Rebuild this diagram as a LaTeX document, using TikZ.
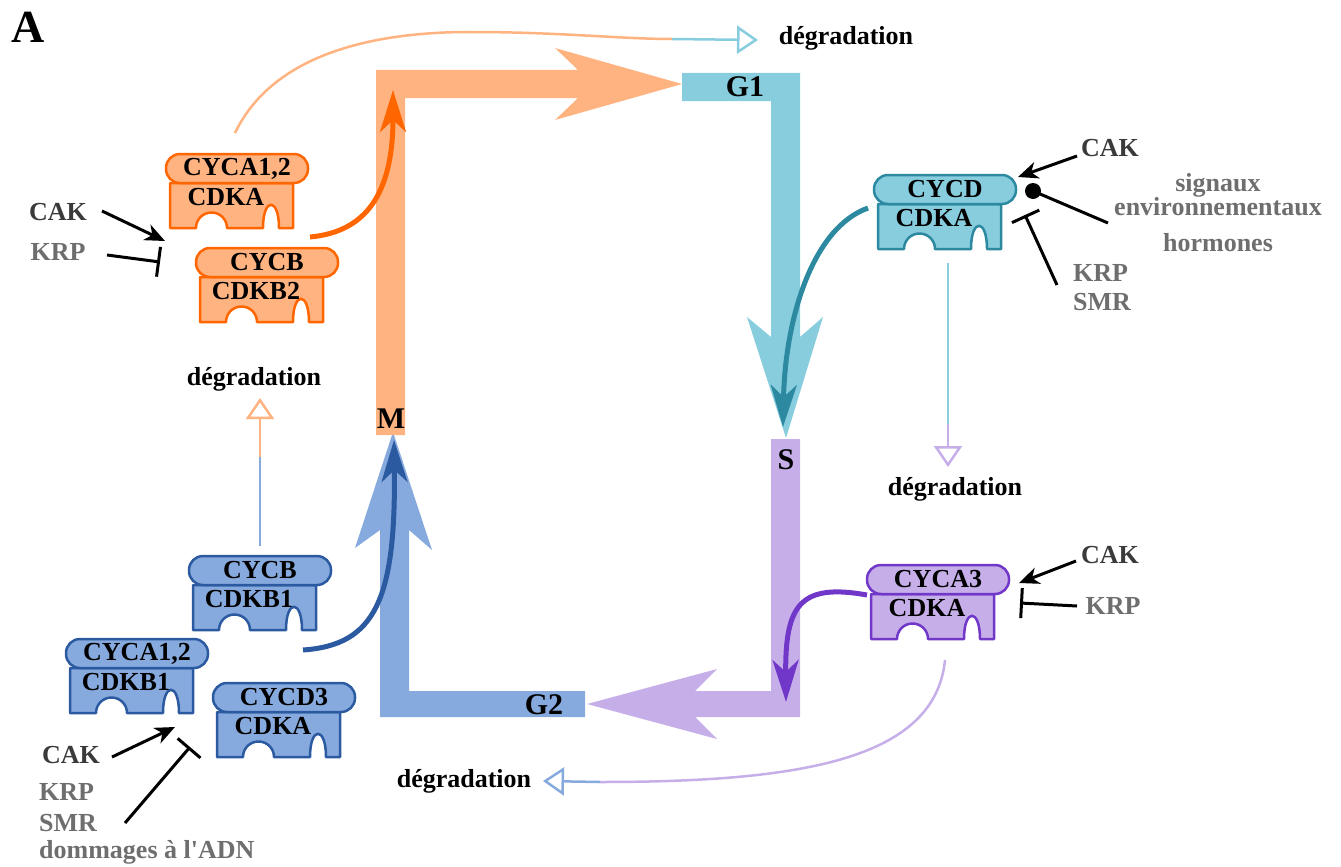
\documentclass[tikz,border=0pt]{standalone}
\usepackage{fontspec}
\setmainfont{Liberation Serif}
\usetikzlibrary{arrows.meta}
\definecolor{orL}{HTML}{FFB380}
\definecolor{orD}{HTML}{FF6600}
\definecolor{cyL}{HTML}{87CDDE}
\definecolor{cyD}{HTML}{2C89A0}
\definecolor{puL}{HTML}{C6AFE9}
\definecolor{puD}{HTML}{7137C8}
\definecolor{blL}{HTML}{87AADE}
\definecolor{blD}{HTML}{2C5AA0}
\definecolor{dkgray}{HTML}{3A3A3A}
\definecolor{ltgray}{HTML}{6E6E6E}
\newcommand{\cplx}[6]{%
 \begin{scope}[shift={(#2,#3)}]
  \filldraw[cxline, draw=#6D, fill=#6L] (0,0) -- (123,0) -- (123,45) -- (109,45)
    .. controls (109,14) and (93,14) .. (93,45) -- (57,45)
    .. controls (57,36.4) and (50.1,29.5) .. (41.5,29.5)
    .. controls (32.9,29.5) and (26,36.4) .. (26,45) -- (0,45) -- cycle;
  \filldraw[cxline, draw=#6D, fill=#6L, rounded corners=14pt] (-4,-29) rectangle (138,0);
  \node[lbl] (#1c) at (67,-14.5) {#4};
  \node[lbl] (#1k) at (56,14) {#5};
 \end{scope}}
\begin{document}
\begin{tikzpicture}[x=1pt,y=-1pt,
  lbl/.style={font=\fontsize{26}{26}\selectfont\bfseries, inner sep=0pt},
  phase/.style={font=\fontsize{30}{30}\selectfont\bfseries, inner sep=0pt},
  cxline/.style={line width=2.5pt, line join=round},
  reg/.style={line width=3pt, black},
  actarrow/.style={reg, -{Stealth[length=20pt,width=17pt,inset=6pt]}},
  inharrow/.style={reg, -{Bar[width=30pt]}},
  drive/.style={line width=5pt, -{Stealth[length=42pt,width=26pt,inset=12pt]}},
  deg/.style={line width=2.5pt},
  degtip/.style={-{Triangle[open,length=21pt,width=28pt]}},
]
\useasboundingbox (0,0) rectangle (1341,867);
\node[font=\fontsize{46}{46}\selectfont\bfseries, inner sep=0pt] (A) at (28,27) {A};

% cycle
\fill[blL] (585,691) -- (585,717) -- (380,717) -- (380,530) -- (355,548) -- (393,432) -- (432,550) -- (409,530) -- (409,691) -- cycle;
\fill[orL] (376,435) -- (376,70) -- (578,70) -- (555,48) -- (682,84) -- (555,120) -- (578,98) -- (405,98) -- (405,435) -- cycle;
\fill[cyL] (682,73) -- (800,73) -- (800,337) -- (823,317) -- (786,438) -- (747,317) -- (771,337) -- (771,101) -- (682,101) -- cycle;
\fill[puL] (771,439) -- (800,439) -- (800,717) -- (695,717) -- (717,739) -- (587,704) -- (717,669) -- (695,691) -- (771,691) -- cycle;
\node[phase] (M) at (391,419) {M};
\node[phase] (G1) at (745,87) {G1};
\node[phase] (S) at (786,460) {S};
\node[phase] (G2) at (544,705) {G2};

% complexes
\cplx{oa}{170}{183}{CYCA1,2}{CDKA}{or}
\cplx{ob}{200}{277}{CYCB}{CDKB2}{or}
\cplx{cd}{878}{204}{CYCD}{CDKA}{cy}
\cplx{pa}{871}{594}{CYCA3}{CDKA}{pu}
\cplx{bb}{193}{585}{CYCB}{CDKB1}{bl}
\cplx{ba}{70}{668}{CYCA1,2}{CDKB1}{bl}
\cplx{bd}{217}{712}{CYCD3}{CDKA}{bl}

% driving curves
\coordinate (od0) at (310,237); \coordinate (od1) at (393,90);
\draw[drive, orD] (od0) .. controls (365,232) and (393,195) .. (od1);
\coordinate (bd0) at (303,650); \coordinate (bd1) at (394,440);
\draw[drive, blD] (bd0) .. controls (375,645) and (396,600) .. (bd1);
\coordinate (cd0) at (868,208); \coordinate (cd1) at (783,427);
\draw[drive, cyD] (cd0) .. controls (812,228) and (785,320) .. (cd1);
\coordinate (pd0) at (867,595); \coordinate (pd1) at (786,702);
\draw[drive, puD] (pd0) .. controls (800,583) and (785,605) .. (pd1);

% degradation
\node[lbl] (dg1) at (846,38) {dégradation};
\node[lbl] (dg2) at (254,379) {dégradation};
\node[lbl] (dg3) at (955,489) {dégradation};
\node[lbl] (dg4) at (464,781) {dégradation};
\coordinate (t1a) at (235,133); \coordinate (t1b) at (672,39); \coordinate (t1c) at (758,40);
\draw[deg, orL] (t1a) .. controls (270,60) and (360,32) .. (470,32) .. controls (560,32) and (620,39) .. (t1b);
\draw[deg, cyL, degtip] (t1b) -- (t1c);
\coordinate (t2a) at (260,546); \coordinate (t2b) at (260,457); \coordinate (t2c) at (260,398);
\draw[deg, blL] (t2a) -- (t2b);
\draw[deg, orL, degtip] (t2b) -- (t2c);
\coordinate (t3a) at (948,263); \coordinate (t3b) at (948,424); \coordinate (t3c) at (948,467);
\draw[deg, cyL] (t3a) -- (t3b);
\draw[deg, puL, degtip] (t3b) -- (t3c);
\coordinate (t4a) at (945,660); \coordinate (t4b) at (600,782); \coordinate (t4c) at (543,781);
\draw[deg, puL] (t4a) .. controls (935,760) and (800,782) .. (t4b);
\draw[deg, blL, degtip] (t4b) -- (t4c);

% regulators top-left
\node[lbl, text=dkgray] (cak1) at (58,212) {CAK};
\node[lbl, text=ltgray] (krp1) at (58,252) {KRP};
\coordinate (r1a) at (102,211); \coordinate (r1b) at (165,241);
\draw[actarrow] (r1a) -- (r1b);
\coordinate (r2a) at (107,255); \coordinate (r2b) at (160,262);
\draw[inharrow] (r2a) -- (r2b);

% regulators cyan
\node[lbl, text=dkgray] (cak2) at (1110,148) {CAK};
\coordinate (r3a) at (1077,156); \coordinate (r3b) at (1018,177);
\draw[actarrow] (r3a) -- (r3b);
\coordinate (dot) at (1033,191); \coordinate (r4a) at (1108,223);
\draw[reg] (r4a) -- (dot);
\fill (dot) circle (8pt);
\node[lbl, text=ltgray] (sig) at (1218,185) {signaux};
\node[lbl, text=ltgray] (env) at (1218,207) {environnementaux};
\node[lbl, text=ltgray] (hor) at (1218,243) {hormones};
\coordinate (r5a) at (1057,285); \coordinate (r5b) at (1025,215);
\draw[inharrow] (r5a) -- (r5b);
\node[lbl, text=ltgray, anchor=west] (krp2) at (1073,273) {KRP};
\node[lbl, text=ltgray, anchor=west] (smr2) at (1073,302) {SMR};

% regulators purple
\node[lbl, text=dkgray] (cak3) at (1110,555) {CAK};
\node[lbl, text=ltgray] (krp3) at (1113,606) {KRP};
\coordinate (r6a) at (1076,561); \coordinate (r6b) at (1019,583);
\draw[actarrow] (r6a) -- (r6b);
\coordinate (r7a) at (1077,606); \coordinate (r7b) at (1020,603);
\draw[inharrow] (r7a) -- (r7b);

% regulators bottom-left
\node[lbl, text=dkgray] (cak4) at (71,755) {CAK};
\coordinate (r8a) at (112,757); \coordinate (r8b) at (175,727);
\draw[actarrow] (r8a) -- (r8b);
\coordinate (r9a) at (125,823); \coordinate (r9b) at (190,747);
\draw[inharrow] (r9a) -- (r9b);
\node[lbl, text=ltgray, anchor=west] (krp4) at (39,792) {KRP};
\node[lbl, text=ltgray, anchor=west] (smr4) at (39,823) {SMR};
\node[lbl, text=ltgray, anchor=west] (dna4) at (39,852) {dommages à l\textquotesingle ADN};
\end{tikzpicture}
\end{document}
